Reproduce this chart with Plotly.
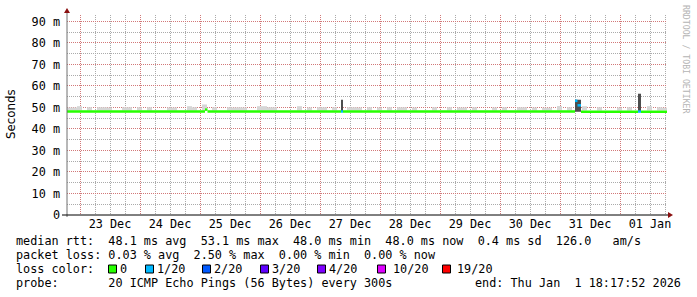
import pandas as pd
import plotly.graph_objects as go

# ---------------- data ----------------
x_start = "2025-12-22 18:48"
x_end = "2026-01-01 18:48"

# smoke (spread of the 20 pings) upper value per 2-hour bin, ms
smoke_top_ms = [
    50.0, 50.0, 50.6, 48.9, 50.1, 48.9, 50.1, 50.1, 50.0, 48.9,
    48.9, 50.1, 50.1, 48.9, 50.1, 48.9, 50.1, 48.9, 48.9, 48.9,
    50.0, 50.0, 48.9, 48.9, 50.6, 50.1, 48.9, 51.4, 48.9, 50.1,
    48.9, 48.9, 50.1, 50.0, 50.1, 50.0, 48.9, 48.9, 50.6, 50.6,
    50.1, 50.1, 48.9, 48.9, 48.9, 48.9, 50.6, 48.9, 50.0, 48.9,
    50.1, 50.1, 48.9, 50.1, 48.9, 48.9, 50.1, 50.1, 50.0, 48.9,
    50.1, 48.9, 50.0, 48.9, 50.1, 48.9, 50.1, 50.1, 48.9, 50.0,
    48.9, 48.9, 48.9, 50.1, 48.9, 48.9, 50.1, 48.9, 50.0, 50.0,
    48.9, 50.1, 48.9, 48.9, 48.9, 50.0, 48.9, 50.1, 48.9, 48.9,
    50.1, 50.1, 48.9, 50.0, 48.9, 49.9, 49.9, 48.9, 50.7, 48.9,
    50.1, 48.9, 48.9, 50.6, 48.9, 48.9, 50.1, 48.9, 48.9, 48.9,
    50.0, 48.9, 50.1, 48.9, 48.9, 48.9, 50.6, 48.9, 50.1, 49.9,
]
smoke_floor_ms = 48.6
smoke_visible_ms = 49.0

# median rtt segments and their packet loss (x/20)
median_start = ["2025-12-22 18:48", "2025-12-25 02:00", "2025-12-25 03:00",
                "2025-12-27 08:24", "2025-12-27 09:12", "2025-12-31 06:00",
                "2025-12-31 07:00", "2025-12-31 08:24", "2026-01-01 07:12",
                "2026-01-01 08:24"]
median_end = ["2025-12-25 02:00", "2025-12-25 03:00", "2025-12-27 08:24",
              "2025-12-27 09:12", "2025-12-31 06:00", "2025-12-31 07:00",
              "2025-12-31 08:24", "2026-01-01 07:12", "2026-01-01 08:24",
              "2026-01-01 18:48"]
median_ms = [48.1, 49.0, 48.1, 48.1, 48.1, 53.1, 51.0, 48.0, 48.1, 48.0]
median_loss20 = [0, 0, 0, 1, 0, 1, 1, 0, 1, 0]

# dark smoke spikes
spike_start = ["2025-12-27 08:24", "2025-12-31 06:00", "2026-01-01 07:12"]
spike_end = ["2025-12-27 09:12", "2025-12-31 08:24", "2026-01-01 08:24"]
spike_low_ms = [48.0, 48.0, 48.0]
spike_high_ms = [53.6, 53.6, 56.4]

y_tick_ms = [0, 10, 20, 30, 40, 50, 60, 70, 80, 90]
y_minor_ms = [5, 15, 25, 35, 45, 55, 65, 75, 85]

loss_counts = [0, 1, 2, 3, 4, 10, 19]
loss_labels = ["0", "1/20", "2/20", "3/20", "4/20", "10/20", "19/20"]
loss_colors = ["#26ff00", "#00b8ff", "#0059ff", "#5e00ff", "#7e00ff", "#dd00ff", "#ff0000"]

rtt_avg, rtt_max, rtt_min, rtt_now, rtt_sd, rtt_ams = 48.1, 53.1, 48.0, 48.0, 0.4, 126.0
loss_avg, loss_max, loss_min, loss_now = 0.03, 2.50, 0.00, 0.00
probe_text = "20 ICMP Echo Pings (56 Bytes) every 300s"
end_text = "end: Thu Jan  1 18:17:52 2026"

# ---------------- layout geometry ----------------
W, H = 697, 297
ML, MR, MT, MB = 67, 30, 15, 82
PW, PH = W - ML - MR, H - MT - MB
MONO = "DejaVu Sans Mono"
FS = 11.8


def px(x):
    return (x - ML) / PW


def py(y):
    return (H - MB - y) / PH


fig = go.Figure()

# smoke
bins = pd.date_range(x_start, periods=len(smoke_top_ms), freq="2h") + pd.Timedelta(hours=1)
sx, sy = [], []
for t, v in zip(bins, smoke_top_ms):
    if v > smoke_visible_ms:
        sx.append(t)
        sy.append(v - smoke_floor_ms)
fig.add_trace(go.Bar(x=sx, y=sy, base=smoke_floor_ms, width=2 * 3600 * 1000,
                     marker=dict(color="#d6d6d6", line=dict(width=0)),
                     hoverinfo="skip", showlegend=False))

# spikes
s0 = pd.to_datetime(spike_start)
s1 = pd.to_datetime(spike_end)
fig.add_trace(go.Bar(x=s0 + (s1 - s0) / 2,
                     y=[h - l for h, l in zip(spike_high_ms, spike_low_ms)],
                     base=spike_low_ms,
                     width=[(b - a).total_seconds() * 1000 for a, b in zip(s0, s1)],
                     marker=dict(color="#4d4d4d", line=dict(width=0)),
                     hoverinfo="skip", showlegend=False))

# median segments coloured by loss
for cnt, col in zip(loss_counts, loss_colors):
    xs, ys = [], []
    for a, b, v, l in zip(median_start, median_end, median_ms, median_loss20):
        if l == cnt:
            xs += [a, b, None]
            ys += [v, v, None]
    if xs:
        fig.add_trace(go.Scatter(x=xs, y=ys, mode="lines",
                                 line=dict(color=col, width=2.5),
                                 hoverinfo="skip", showlegend=False))

MAJ = "#d27878"
MIN = "#ababab"
DASH = "1px,1px"

fig.update_layout(
    width=W, height=H,
    margin=dict(l=ML, r=MR, t=MT, b=MB, pad=0),
    paper_bgcolor="white", plot_bgcolor="white",
    barmode="overlay",
    showlegend=False,
    font=dict(family=MONO, size=FS, color="black"),
    xaxis=dict(
        type="date", range=[x_start, x_end],
        dtick=86400000, tick0="2025-12-23", tickformat="%d %b",
        ticklabelmode="period",
        showgrid=True, gridcolor=MAJ, griddash=DASH, gridwidth=1,
        minor=dict(dtick=21600000, tick0="2025-12-23", showgrid=True,
                   gridcolor=MIN, griddash=DASH, gridwidth=1),
        zeroline=False, showline=False, ticks="",
        tickfont=dict(family=MONO, size=FS, color="black"),
        fixedrange=True,
    ),
    yaxis=dict(
        range=[0, 93],
        tickmode="array", tickvals=y_tick_ms,
        ticktext=[("0" if v == 0 else f"{v} m") for v in y_tick_ms],
        showgrid=True, gridcolor=MAJ, griddash=DASH, gridwidth=1,
        minor=dict(tickmode="array", tickvals=y_minor_ms, showgrid=True,
                   gridcolor=MIN, griddash=DASH, gridwidth=1),
        zeroline=False, showline=False, ticks="",
        ticklabelstandoff=6,
        tickfont=dict(family=MONO, size=FS, color="black"),
        fixedrange=True,
    ),
)

shapes = []
# axes
shapes.append(dict(type="line", xref="paper", yref="paper",
                   x0=px(67), x1=px(67), y0=py(217), y1=py(11),
                   line=dict(color="#707070", width=1), layer="above"))
shapes.append(dict(type="line", xref="paper", yref="paper",
                   x0=px(62), x1=px(669), y0=py(215), y1=py(215),
                   line=dict(color="black", width=1), layer="above"))
# arrows
shapes.append(dict(type="path", xref="paper", yref="paper",
                   path=f"M {px(64)} {py(13)} L {px(70)} {py(13)} L {px(67)} {py(8)} Z",
                   fillcolor="#8b1010", line=dict(width=0), layer="above"))
shapes.append(dict(type="path", xref="paper", yref="paper",
                   path=f"M {px(668)} {py(212)} L {px(668)} {py(218)} L {px(673)} {py(215)} Z",
                   fillcolor="#8b1010", line=dict(width=0), layer="above"))

# legend colour boxes
box_x = [109, 146, 203, 261, 318, 378, 443]
lab_x = [119, 156, 213, 271, 328, 392, 456]
for bx, col in zip(box_x, loss_colors):
    shapes.append(dict(type="rect", xref="paper", yref="paper",
                       x0=px(bx - 0.5), x1=px(bx + 7.5), y0=py(273), y1=py(265),
                       fillcolor=col, line=dict(color="black", width=1), layer="above"))
fig.update_layout(shapes=shapes)

ann = []


def txt(x, y, s, anchor="left", **kw):
    ann.append(dict(x=px(x), y=py(y), xref="paper", yref="paper", text=s,
                    showarrow=False, xanchor=anchor, yanchor="middle",
                    font=dict(family=MONO, size=FS, color="black"), **kw))


line1 = (f"median rtt:  {rtt_avg:.1f} ms avg  {rtt_max:.1f} ms max  {rtt_min:.1f} ms min  "
         f"{rtt_now:.1f} ms now  {rtt_sd:.1f} ms sd  {rtt_ams:.1f}   am/s")
line2 = (f"packet loss: {loss_avg:.2f} % avg  {loss_max:.2f} % max  {loss_min:.2f} % min  "
         f"{loss_now:.2f} % now")
txt(14, 241, line1.replace(" ", "&nbsp;"))
txt(14, 255, line2.replace(" ", "&nbsp;"))
txt(14, 269, "loss color:")
for lx, lab in zip(lab_x, loss_labels):
    txt(lx - 1, 269, lab)
txt(14, 283, ("probe:       " + probe_text).replace(" ", "&nbsp;"))
txt(683, 283, end_text.replace(" ", "&nbsp;"), anchor="right")

# y title
ann.append(dict(x=px(11), y=py(114), xref="paper", yref="paper", text="Seconds",
                showarrow=False, textangle=-90, xanchor="center", yanchor="middle",
                font=dict(family="DejaVu Sans", size=FS, color="black")))
# watermark
ann.append(dict(x=px(686), y=py(59), xref="paper", yref="paper",
                text="RRDTOOL / TOBI OETIKER".replace(" ", "&nbsp;"),
                showarrow=False, textangle=90, xanchor="center", yanchor="middle",
                font=dict(family=MONO, size=8.2, color="#b4b4b4")))
fig.update_layout(annotations=ann)

fig.write_html("out.html")
